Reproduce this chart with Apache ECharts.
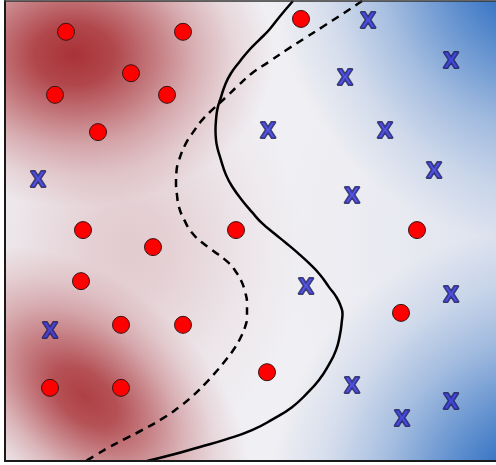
<!DOCTYPE html>
<html>
<head>
<meta charset="utf-8">
<script src="https://cdn.jsdelivr.net/npm/echarts@6/dist/echarts.min.js"></script>
<style>
html,body{margin:0;padding:0;background:#ffffff;}
#chart{width:496px;height:465px;}
</style>
</head>
<body>
<div id="chart"></div>
<script>
// ---- class 1 points (red circles)
const redX = [1.22, 3.56, 2.52, 1.00, 3.24, 1.86, 1.56, 4.62, 2.96, 1.52, 2.32, 3.56, 0.90, 2.32, 5.92, 8.24, 7.92, 5.24];
const redY = [9.33, 9.33, 8.43, 7.96, 7.96, 7.15, 5.02, 5.02, 4.65, 3.91, 2.96, 2.96, 1.59, 1.59, 9.61, 5.02, 3.22, 1.93];

// ---- class 2 points (blue X)
const blueX = [0.66, 0.90, 7.26, 8.92, 6.80, 5.26, 7.60, 8.58, 6.94, 6.02, 8.92, 6.94, 7.94, 8.92];
const blueY = [6.07, 2.80, 9.54, 8.67, 8.30, 7.15, 7.15, 6.26, 5.72, 3.74, 3.57, 1.59, 0.87, 1.24];

// ---- solid decision boundary
const boundaryX = [5.76, 5.50, 5.28, 5.07, 4.88, 4.70, 4.52, 4.40, 4.32, 4.25, 4.22, 4.21, 4.22, 4.25, 4.30, 4.42, 4.56, 4.74, 4.94, 5.14, 5.38, 5.62, 5.86, 6.08, 6.30, 6.48, 6.63, 6.72, 6.75, 6.74, 6.70, 6.62, 6.47, 6.28, 6.03, 5.74, 5.36, 4.94, 4.42, 3.88, 3.36, 2.84];
const boundaryY = [10.0, 9.67, 9.37, 9.14, 8.93, 8.69, 8.43, 8.17, 7.91, 7.66, 7.41, 7.20, 6.98, 6.80, 6.61, 6.22, 5.94, 5.67, 5.41, 5.17, 4.95, 4.74, 4.52, 4.30, 4.05, 3.78, 3.56, 3.35, 3.20, 3.07, 2.75, 2.41, 2.08, 1.76, 1.46, 1.17, 0.91, 0.67, 0.47, 0.30, 0.14, 0.0];

// ---- dashed boundary
const dashedX = [7.14, 6.74, 6.34, 5.98, 5.62, 5.28, 4.94, 4.67, 4.42, 4.17, 3.94, 3.77, 3.62, 3.48, 3.43, 3.42, 3.44, 3.48, 3.59, 3.74, 3.93, 4.14, 4.48, 4.62, 4.72, 4.80, 4.84, 4.84, 4.80, 4.72, 4.59, 4.42, 4.23, 4.02, 3.77, 3.48, 3.13, 2.74, 2.40, 2.08, 1.85, 1.62];
const dashedY = [10.0, 9.71, 9.43, 9.18, 8.93, 8.68, 8.43, 8.17, 7.91, 7.66, 7.41, 7.16, 6.91, 6.54, 6.30, 6.04, 5.78, 5.52, 5.23, 4.96, 4.76, 4.59, 4.30, 4.11, 3.93, 3.68, 3.43, 3.13, 2.91, 2.70, 2.45, 2.20, 1.95, 1.70, 1.43, 1.17, 0.91, 0.67, 0.48, 0.30, 0.15, 0.0];

// ---- background probability field, estimated as blobs (class 0 = red, 1 = blue)
const fieldX = [1.38, 1.60, 2.50, 10.7, 10.7, 11.9];
const fieldY = [8.83, 1.40, 4.59, 10.89, -0.85, 4.80];
const fieldSpreadX = [4.0, 3.8, 3.5, 5.4, 5.4, 6.5];
const fieldSpreadY = [3.3, 2.5, 4.5, 6.2, 5.9, 6.0];
const fieldTilt = [0, -0.7, 0, 0, 0, 0];
const fieldStrength = [0.95, 0.88, 0.18, 1.0, 1.0, 0.12];
const fieldClass = [0, 0, 0, 1, 1, 1];

const classRGB = [[165, 40, 45], [30, 100, 190]];
const falloff = [[0, 1], [0.2, 0.89], [0.4, 0.62], [0.6, 0.34], [0.8, 0.13], [1, 0]];

const fieldData = fieldX.map((x, i) => [x, fieldY[i], fieldSpreadX[i], fieldSpreadY[i], fieldStrength[i], fieldClass[i], fieldTilt[i]]);
const redData = redX.map((x, i) => [x, redY[i]]);
const blueData = blueX.map((x, i) => [x, blueY[i]]);
const boundaryData = boundaryX.map((x, i) => [x, boundaryY[i]]);
const dashedData = dashedX.map((x, i) => [x, dashedY[i]]);

function renderBlob(params, api) {
  const c = api.coord([api.value(0), api.value(1)]);
  const sx = api.size([api.value(2), 0])[0];
  const sy = api.size([0, api.value(3)])[1];
  const a = api.value(4);
  const rgb = classRGB[api.value(5)];
  const stops = falloff.map(s => ({
    offset: s[0],
    color: 'rgba(' + rgb[0] + ',' + rgb[1] + ',' + rgb[2] + ',' + (a * s[1]).toFixed(3) + ')'
  }));
  return {
    type: 'circle',
    x: c[0],
    y: c[1],
    scaleX: sx / sy,
    rotation: api.value(6),
    shape: { cx: 0, cy: 0, r: sy },
    style: { fill: { type: 'radial', x: 0.5, y: 0.5, r: 0.5, colorStops: stops } },
    silent: true
  };
}

const chart = echarts.init(document.getElementById('chart'), null, { renderer: 'canvas' });
const hiddenAxis = {
  type: 'value', min: 0, max: 10,
  axisLabel: { show: false }, axisTick: { show: false }, splitLine: { show: false },
  axisLine: { show: true, onZero: false, lineStyle: { color: '#1a1a1a', width: 2 } },
  z: 10
};
chart.setOption({
  animation: false,
  backgroundColor: '#ffffff',
  grid: {
    left: 5, top: 1, width: 500, height: 460, outerBoundsMode: 'none', containLabel: false,
    show: true, backgroundColor: '#f0eff3', borderWidth: 0
  },
  xAxis: [
    Object.assign({}, hiddenAxis, { position: 'bottom' }),
    Object.assign({}, hiddenAxis, { position: 'top', axisLine: { show: true, onZero: false, lineStyle: { color: '#333', width: 1.5 } } })
  ],
  yAxis: [Object.assign({}, hiddenAxis, { position: 'left' })],
  series: [
    {
      type: 'custom', coordinateSystem: 'cartesian2d', clip: true, z: 1,
      renderItem: renderBlob, data: fieldData, silent: true
    },
    {
      type: 'line', data: boundaryData, symbol: 'none', smooth: 0.5, z: 3, clip: true,
      lineStyle: { color: '#000000', width: 2.5 }, silent: true
    },
    {
      type: 'line', data: dashedData, symbol: 'none', smooth: 0.5, z: 3, clip: true,
      lineStyle: { color: '#000000', width: 2.5, type: [8, 6] }, silent: true
    },
    {
      type: 'scatter', data: redData, symbol: 'circle', symbolSize: 17, z: 5,
      itemStyle: { color: '#ff0000', borderColor: '#3a1212', borderWidth: 1, opacity: 1 }
    },
    {
      type: 'scatter', data: blueData, symbol: 'circle', symbolSize: 1, z: 5,
      itemStyle: { color: 'rgba(0,0,0,0)' },
      label: {
        show: true, position: 'inside', formatter: 'X',
        fontFamily: 'DejaVu Sans', fontWeight: 'bold', fontSize: 21,
        color: '#3434d4', textBorderColor: '#16163c', textBorderWidth: 2
      }
    }
  ]
});
</script>
</body>
</html>
